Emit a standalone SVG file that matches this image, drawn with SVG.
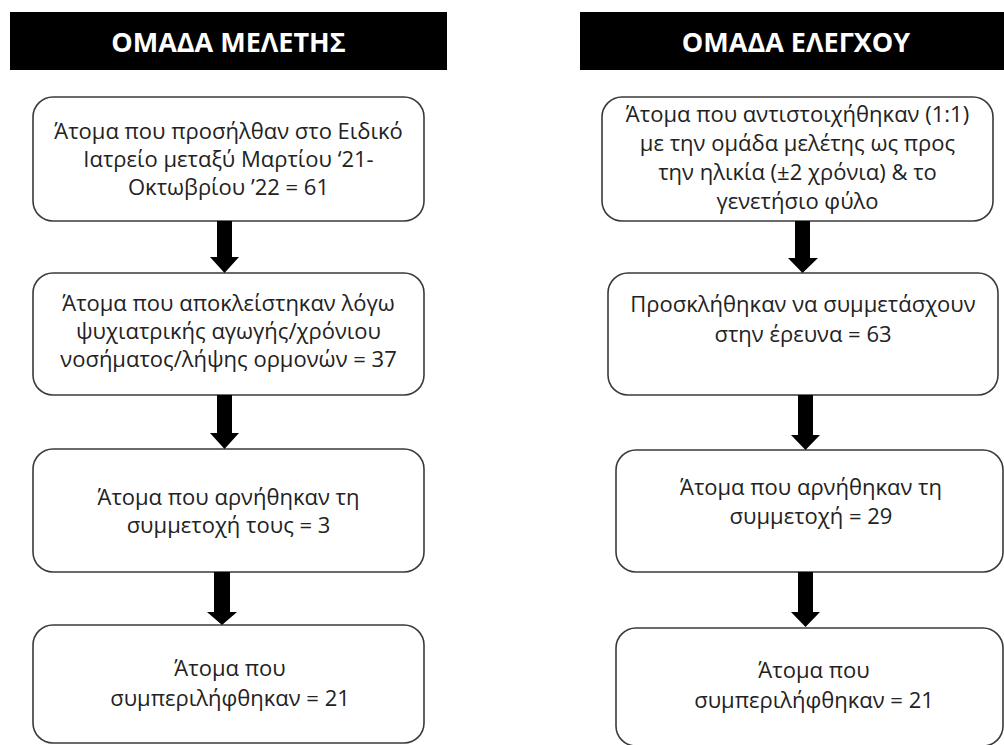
<svg xmlns="http://www.w3.org/2000/svg" width="1004" height="745" viewBox="0 0 1004 745">
<style>
.hdr{fill:#000}
.ht{font-family:"Open Sans","Noto Sans",sans-serif;font-weight:bold;font-size:27px;fill:#fff;text-anchor:middle}
.box{fill:#fff;stroke:#3a3a3a;stroke-width:1.6}
.t{font-family:"Open Sans","Noto Sans",sans-serif;font-size:22px;fill:#222;text-anchor:middle}
.arr{fill:#000}
</style>
<rect width="1004" height="745" fill="#fff"/>
<g id="hdr-left"><rect class="hdr" x="10" y="12" width="437" height="58"/><text class="ht" x="228.5" y="52">ΟΜΑΔΑ ΜΕΛΕΤΗΣ</text></g>
<g id="hdr-right"><rect class="hdr" x="580" y="12" width="424" height="58"/><text class="ht" x="796" y="52">ΟΜΑΔΑ ΕΛΕΓΧΟΥ</text></g>

<g id="L1"><rect class="box" x="33" y="97" width="391" height="124" rx="20"/>
<text class="t" x="228.5" y="139">Άτομα που προσήλθαν στο Ειδικό</text>
<text class="t" x="228.5" y="167">Ιατρείο μεταξύ Μαρτίου ‘21-</text>
<text class="t" x="228.5" y="195">Οκτωβρίου ’22 = 61</text></g>
<g id="L2"><rect class="box" x="33" y="273" width="391" height="122" rx="20"/>
<text class="t" x="228.5" y="311">Άτομα που αποκλείστηκαν λόγω</text>
<text class="t" x="228.5" y="339">ψυχιατρικής αγωγής/χρόνιου</text>
<text class="t" x="228.5" y="367">νοσήματος/λήψης ορμονών = 37</text></g>
<g id="L3"><rect class="box" x="33" y="449" width="391" height="123" rx="20"/>
<text class="t" x="228.5" y="505">Άτομα που αρνήθηκαν τη</text>
<text class="t" x="228.5" y="533">συμμετοχή τους = 3</text></g>
<g id="L4"><rect class="box" x="33" y="625" width="391" height="118" rx="20"/>
<text class="t" x="230" y="676">Άτομα που</text>
<text class="t" x="230" y="706">συμπεριλήφθηκαν = 21</text></g>

<g id="R1"><rect class="box" x="602" y="97" width="391" height="124" rx="20"/>
<text class="t" x="797.5" y="122">Άτομα που αντιστοιχήθηκαν (1:1)</text>
<text class="t" x="797.5" y="151">με την ομάδα μελέτης ως προς</text>
<text class="t" x="797.5" y="180">την ηλικία (±2 χρόνια) &amp; το</text>
<text class="t" x="797.5" y="209">γενετήσιο φύλο</text></g>
<g id="R2"><rect class="box" x="608" y="273" width="390" height="122" rx="20"/>
<text class="t" x="803" y="312">Προσκλήθηκαν να συμμετάσχουν</text>
<text class="t" x="803" y="342">στην έρευνα = 63</text></g>
<g id="R3"><rect class="box" x="616" y="450" width="387" height="122" rx="20"/>
<text class="t" x="811" y="495">Άτομα που αρνήθηκαν τη</text>
<text class="t" x="811" y="524">συμμετοχή = 29</text></g>
<g id="R4"><rect class="box" x="616" y="628" width="387" height="118" rx="20"/>
<text class="t" x="814" y="678">Άτομα που</text>
<text class="t" x="814" y="708">συμπεριλήφθηκαν = 21</text></g>

<g id="connectors">
<path class="arr" d="M217,221 H232 V257 H239 L224.5,273 L210,257 H217 Z"/>
<path class="arr" d="M217,395 H232 V433 H239 L224.5,449 L210,433 H217 Z"/>
<path class="arr" d="M214,572 H230 V612 H237 L222,625 L207,612 H214 Z"/>
<path class="arr" d="M795,221 H810 V258 H818 L802.5,273 L788,258 H795 Z"/>
<path class="arr" d="M798,395 H813 V435 H820 L805.5,450 L791,435 H798 Z"/>
<path class="arr" d="M798,572 H813 V612 H820 L805.5,627 L791,612 H798 Z"/>
</g>
</svg>
